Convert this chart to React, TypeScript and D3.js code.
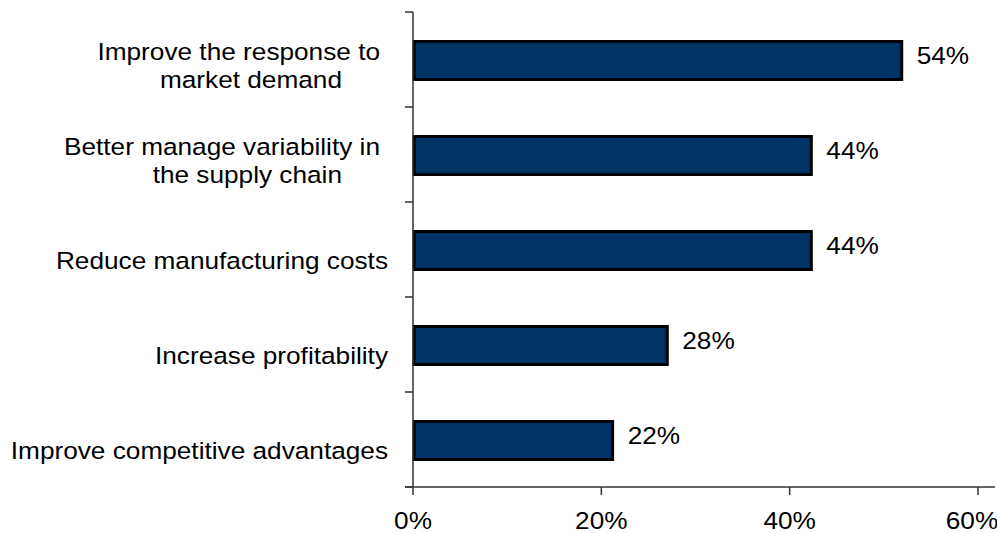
import React from "react";
import * as d3 from "d3";

const categories: string[][] = [
  ["Improve the response to", "market demand"],
  ["Better manage variability in", "the supply chain"],
  ["Reduce manufacturing costs"],
  ["Increase profitability"],
  ["Improve competitive advantages"],
];
const barValues: number[] = [51.9, 42.3, 42.3, 27.0, 21.2];
const valueLabels: string[] = ["54%", "44%", "44%", "28%", "22%"];
const xTicks: number[] = [0, 20, 40, 60];

const W = 997;
const H = 533;
const FONT = "'Liberation Sans', Arial, Helvetica, sans-serif";
const FS = 24.5;
const SX = 1.07;

export default function App() {
  const keys = categories.map((c) => c.join(" "));
  const x = d3.scaleLinear().domain([0, 60]).range([413, 978]);
  const y = d3
    .scaleBand<string>()
    .domain(keys)
    .range([12, 487])
    .paddingInner(0.6)
    .paddingOuter(0.3);
  const step = y.step();
  const [y0, y1] = y.range();
  const boundaries = d3.range(keys.length + 1).map((i) => y0 + i * step);
  const axisColor = "#333";

  const T = (props: { x: number; y: number; anchor: string; text: string }) => (
    <text
      transform={`translate(${props.x},${props.y}) scale(${SX},1)`}
      textAnchor={props.anchor as any}
      fontFamily={FONT}
      fontSize={FS}
      fill="#000"
    >
      {props.text}
    </text>
  );

  return (
    <svg
      width={W}
      height={H}
      style={{ position: "absolute", left: 0, top: 0, background: "#fff" }}
    >
      {/* bars */}
      {keys.map((k, i) => (
        <rect
          key={k}
          x={x(0) + 1}
          y={(y(k) as number) + 1}
          width={x(barValues[i]) - x(0) - 1}
          height={y.bandwidth()}
          fill="#003366"
          stroke="#000"
          strokeWidth={3}
        />
      ))}
      {/* y axis */}
      <line x1={x(0)} x2={x(0)} y1={y0} y2={y1} stroke={axisColor} strokeWidth={1.5} />
      {boundaries.map((b, i) => (
        <line key={i} x1={x(0) - 8} x2={x(0)} y1={b} y2={b} stroke={axisColor} strokeWidth={1.5} />
      ))}
      {/* x axis */}
      <line x1={x(0) - 8} x2={995} y1={y1} y2={y1} stroke={axisColor} strokeWidth={1.5} />
      {xTicks.map((t) => (
        <line key={t} x1={x(t)} x2={x(t)} y1={y1} y2={y1 + 8} stroke={axisColor} strokeWidth={1.5} />
      ))}
      {xTicks.map((t) => (
        <T key={t} x={Math.min(x(t), 972)} y={529} anchor="middle" text={`${t}%`} />
      ))}
      {/* category labels */}
      {categories.map((lines, i) => {
        const c = (y(keys[i]) as number) + y.bandwidth() / 2;
        if (lines.length === 1) {
          return <T key={i} x={388} y={c + 19} anchor="end" text={lines[0]} />;
        }
        return (
          <g key={i}>
            <T x={380} y={c} anchor="end" text={lines[0]} />
            <T x={342} y={c + 28.5} anchor="end" text={lines[1]} />
          </g>
        );
      })}
      {/* value labels */}
      {keys.map((k, i) => (
        <T
          key={k}
          x={x(barValues[i]) + 15}
          y={(y(k) as number) + y.bandwidth() / 2 + 4}
          anchor="start"
          text={valueLabels[i]}
        />
      ))}
    </svg>
  );
}
